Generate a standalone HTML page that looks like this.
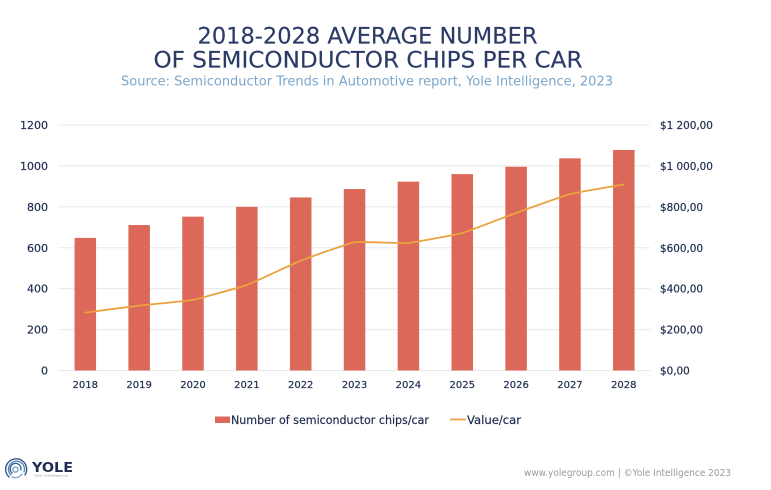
<!DOCTYPE html>
<html><head><meta charset="utf-8">
<style>
html,body{margin:0;padding:0;background:#fff;width:771px;height:490px;overflow:hidden}
svg{display:block}
text{font-family:"DejaVu Sans","Liberation Sans",sans-serif}
</style></head>
<body>
<svg id="chart" width="771" height="490" viewBox="0 0 771 490">
<text x="367.5" y="43.5" text-anchor="middle" font-size="22.5" fill="#2b3a67" stroke="#2b3a67" stroke-width="0.15" textLength="340" lengthAdjust="spacingAndGlyphs">2018-2028 AVERAGE NUMBER</text>
<text x="368" y="67.5" text-anchor="middle" font-size="22.5" fill="#2b3a67" stroke="#2b3a67" stroke-width="0.15" textLength="429" lengthAdjust="spacingAndGlyphs">OF SEMICONDUCTOR CHIPS PER CAR</text>
<text x="367" y="85.5" text-anchor="middle" font-size="13.5" fill="#7ba6cb" textLength="492" lengthAdjust="spacingAndGlyphs">Source: Semiconductor Trends in Automotive report, Yole Intelligence, 2023</text>
<g id="grid"></g>
<g id="bars"></g>
<path id="valueLine" fill="none" stroke="#eba23e" stroke-width="1.8" stroke-linecap="round"></path>
<g id="leftTicks"></g>
<g id="rightTicks"></g>
<g id="xTicks"></g>
<g>
<rect x="215" y="416.5" width="15" height="6.5" fill="#dc685a"></rect>
<text x="231" y="424" font-size="11.5" fill="#1f2c50" stroke="#1f2c50" stroke-width="0.2" textLength="198" lengthAdjust="spacingAndGlyphs">Number of semiconductor chips/car</text>
<line x1="450" x2="466" y1="419.5" y2="419.5" stroke="#eba23e" stroke-width="1.8"></line>
<text x="467" y="424" font-size="11.5" fill="#1f2c50" stroke="#1f2c50" stroke-width="0.2" textLength="54" lengthAdjust="spacingAndGlyphs">Value/car</text>
</g>
<g>
<g fill="none" stroke-linecap="round">
<path d="M9 477 A10.5 10.5 0 1 1 25 475" stroke="#33598c" stroke-width="1.4"></path>
<path d="M11 475 A8 8 0 1 1 24 472" stroke="#5a8ab6" stroke-width="1.4"></path>
<path d="M12 473 A5.5 5.5 0 1 1 21 470" stroke="#33598c" stroke-width="1.3"></path>
<path d="M12 477 A8 8 0 0 0 22 474" stroke="#7aa8cc" stroke-width="1.3"></path>
<circle cx="15.5" cy="469.5" r="2.6" stroke="#5a8ab6" stroke-width="1.1"></circle>
</g>
<text x="32" y="472" font-size="13" font-weight="bold" fill="#1f2c50" textLength="41" lengthAdjust="spacingAndGlyphs">YOLE</text>
<text x="34" y="476.5" font-size="2.8" fill="#8a93a8" textLength="34" lengthAdjust="spacingAndGlyphs">Yole Intelligence</text>
</g>
<text x="524" y="476" font-size="10" fill="#9a9a9a" textLength="207" lengthAdjust="spacingAndGlyphs">www.yolegroup.com | ©Yole Intelligence 2023</text>
</svg>
<script>
const categories = ["2018","2019","2020","2021","2022","2023","2024","2025","2026","2027","2028"];
const chipsPerCar = [648,711,752,800,846,887,923,960,996,1037,1078];
const valuePerCar = [283,317,345,418,537,627,623,672,770,862,910];
const leftTickValues = [0,200,400,600,800,1000,1200];
const rightTickLabels = ["$0,00","$200,00","$400,00","$600,00","$800,00","$1 000,00","$1 200,00"];

const NS = "http://www.w3.org/2000/svg";
const plotLeft = 58, plotRight = 650, plotTop = 125, plotBottom = 370.5, axisMax = 1200;
const step = 53.85, firstCenter = 85.3, barWidth = 21.5;
function xScale(i){ return firstCenter + i * step; }
function yScale(v){ return plotBottom - (v / axisMax) * (plotBottom - plotTop); }
function make(tag, attrs, parent, text){
  const el = document.createElementNS(NS, tag);
  for (const k in attrs) el.setAttribute(k, attrs[k]);
  if (text !== undefined) el.textContent = text;
  parent.appendChild(el);
  return el;
}
const gridG = document.getElementById("grid");
const leftG = document.getElementById("leftTicks");
const rightG = document.getElementById("rightTicks");
const xG = document.getElementById("xTicks");
const barsG = document.getElementById("bars");

leftTickValues.forEach(function(v, i){
  const y = yScale(v);
  const g = make("line", {x1: plotLeft, x2: plotRight, y1: y, y2: y, stroke: "#e8e8e8", "stroke-width": 1}, gridG);
  
  
  const l = make("text", {x: 48, y: y + 4, "text-anchor": "end", "font-size": 11, fill: "#1f2c50", stroke: "#1f2c50", "stroke-width": 0.2}, leftG, String(v));
  
  
  const r = make("text", {x: 660, y: y + 4, "font-size": 10.4, fill: "#1f2c50", stroke: "#1f2c50", "stroke-width": 0.2}, rightG, rightTickLabels[i]);
  
  
});
categories.forEach(function(c, i){
  const x = xScale(i);
  const t = make("text", {x: x, y: 388, "text-anchor": "middle", "font-size": 10, fill: "#1f2c50", stroke: "#1f2c50", "stroke-width": 0.2}, xG, c);
  
  
  const top = yScale(chipsPerCar[i]);
  const b = make("rect", {x: x - barWidth / 2, y: top, width: barWidth, height: plotBottom - top, fill: "#dc685a"}, barsG);
  
  
});
const pts = valuePerCar.map(function(v, i){ return [xScale(i), yScale(v)]; });
let d = "M" + pts[0][0] + " " + pts[0][1];
for (let i = 0; i < pts.length - 1; i++){
  const p0 = pts[Math.max(i - 1, 0)], p1 = pts[i], p2 = pts[i + 1], p3 = pts[Math.min(i + 2, pts.length - 1)];
  const s = 0.05;
  d += " C" + (p1[0] + (p2[0] - p0[0]) * s) + " " + (p1[1] + (p2[1] - p0[1]) * s) + " " +
       (p2[0] - (p3[0] - p1[0]) * s) + " " + (p2[1] - (p3[1] - p1[1]) * s) + " " + p2[0] + " " + p2[1];
}
document.getElementById("valueLine").setAttribute("d", d);
</script>
</body></html>
